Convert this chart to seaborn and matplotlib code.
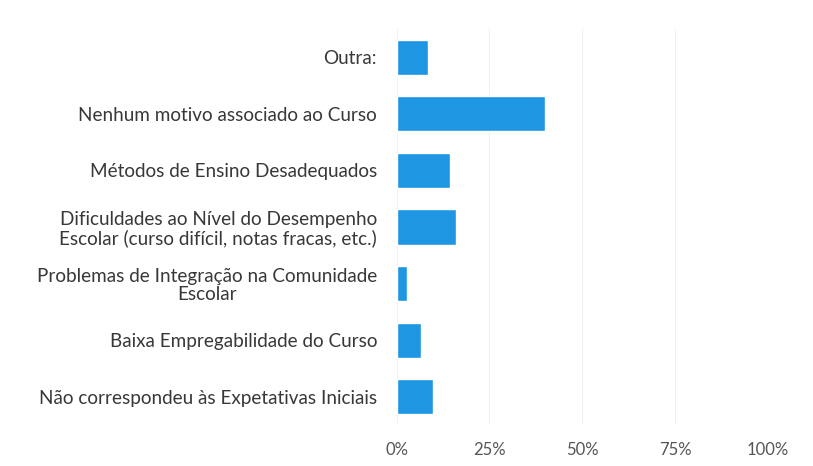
import pandas as pd
import matplotlib
matplotlib.use('Agg')
import matplotlib.pyplot as plt
import seaborn as sns
from matplotlib.ticker import PercentFormatter

# Motivos (de cima para baixo) e percentagens
motivos = [
    "Outra:",
    "Nenhum motivo associado ao Curso",
    "Métodos de Ensino Desadequados",
    "Dificuldades ao Nível do Desempenho\nEscolar (curso difícil, notas fracas, etc.)",
    "Problemas de Integração na Comunidade\nEscolar",
    "Baixa Empregabilidade do Curso",
    "Não correspondeu às Expetativas Iniciais",
]
percentagens = [8.6, 40.0, 14.3, 16.1, 2.7, 6.5, 9.9]
ticks_x = [0, 25, 50, 75, 100]

dados = pd.DataFrame({"Motivo": motivos, "Percentagem": percentagens})

sns.set_style("white")
plt.rcParams['font.family'] = ['Lato', 'DejaVu Sans']

fig = plt.figure(figsize=(8.13, 4.66), dpi=100)
ax = fig.add_axes([0.4877, 0.088, 0.4569, 0.8498])

sns.barplot(data=dados, x="Percentagem", y="Motivo", orient="h",
            color="#1e96e2", saturation=1, width=0.62, ax=ax)

ax.set_xlim(0, 100)
ax.set_xticks(ticks_x)
ax.xaxis.set_major_formatter(PercentFormatter(decimals=0))
ax.set_xlabel("")
ax.set_ylabel("")

# Grelha vertical muito clara, sem contornos
ax.grid(True, axis='x', color="#f0f0f0", linewidth=0.8)
ax.grid(False, axis='y')
ax.set_axisbelow(True)
sns.despine(ax=ax, left=True, bottom=True)

ax.tick_params(axis='x', length=0, pad=12, labelsize=12, labelcolor="#555555")
ax.tick_params(axis='y', length=0, pad=14, labelsize=13.6, labelcolor="#383838")
for lbl in ax.get_yticklabels():
    lbl.set_multialignment('center')
    lbl.set_linespacing(1.05)

fig.savefig("out.png", dpi=100)
